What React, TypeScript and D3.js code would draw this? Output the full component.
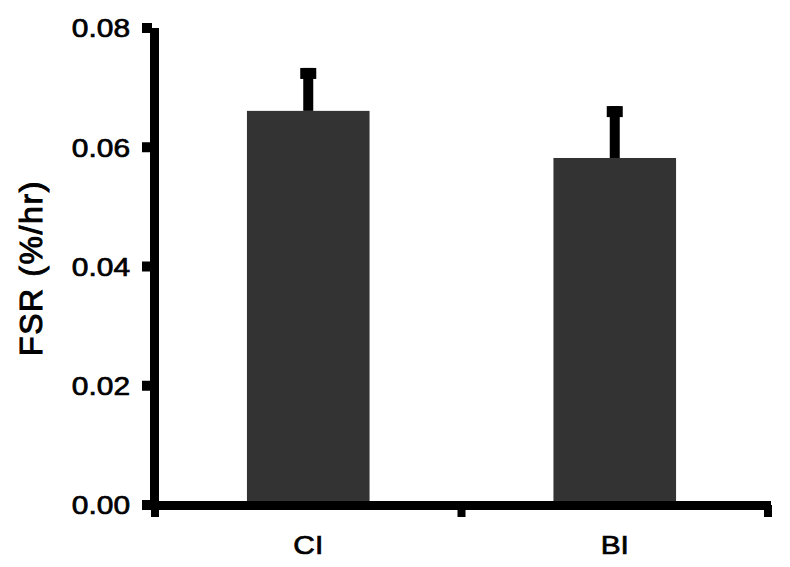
import React, { useEffect, useRef } from 'react';
import * as d3 from 'd3';

const categories = ['CI', 'BI'];
const means = [0.0661, 0.0582];
const errors = [0.0072, 0.0087];
const yTicks = [0, 0.02, 0.04, 0.06, 0.08];

const App: React.FC = () => {
  const svgRef = useRef<SVGSVGElement>(null);

  useEffect(() => {
    const svg = d3.select(svgRef.current);
    svg.selectAll('*').remove();

    const font = 'Liberation Sans, Arial, sans-serif';
    const x0 = 155;
    const x1 = 768;
    const stretch = 1.15;

    const x = d3.scaleBand()
      .domain(categories)
      .range([x0, x1])
      .paddingInner(0.6)
      .paddingOuter(0.3);

    const y = d3.scaleLinear()
      .domain([0, 0.08])
      .range([505, 28]);

    const data = categories.map((c, i) => ({ cat: c, mean: means[i], err: errors[i] }));

    // Bars
    svg.selectAll('.bar')
      .data(data)
      .join('rect')
      .attr('x', d => x(d.cat)!)
      .attr('y', d => y(d.mean))
      .attr('width', x.bandwidth())
      .attr('height', d => y(0) - y(d.mean))
      .attr('fill', '#333333');

    // Error bars (upper only)
    data.forEach(d => {
      const cx = x(d.cat)! + x.bandwidth() / 2;
      svg.append('rect')
        .attr('x', cx - 5)
        .attr('y', y(d.mean + d.err))
        .attr('width', 10)
        .attr('height', y(d.mean) - y(d.mean + d.err))
        .attr('fill', '#000');
      svg.append('rect')
        .attr('x', cx - 8)
        .attr('y', y(d.mean + d.err))
        .attr('width', 16)
        .attr('height', 11)
        .attr('fill', '#000');
    });

    // Y axis
    svg.append('rect')
      .attr('x', 150)
      .attr('y', y(0.08))
      .attr('width', 9)
      .attr('height', y(0) - y(0.08) + 5)
      .attr('fill', '#000');

    svg.selectAll('.ytick')
      .data(yTicks)
      .join('rect')
      .attr('x', 142)
      .attr('y', d => y(d) - 5)
      .attr('width', 10)
      .attr('height', 10)
      .attr('fill', '#000');

    svg.selectAll('.ylabel')
      .data(yTicks)
      .join('text')
      .attr('transform', d => `translate(130, ${y(d)}) scale(${stretch}, 1)`)
      .attr('dy', '0.36em')
      .attr('text-anchor', 'end')
      .style('font-family', font)
      .style('font-size', '26px')
      .style('stroke', '#000')
      .style('stroke-width', '0.7px')
      .text(d => d3.format('.2f')(d));

    // X axis
    svg.append('rect')
      .attr('x', 150)
      .attr('y', y(0) - 4)
      .attr('width', x1 - 150 + 3)
      .attr('height', 9)
      .attr('fill', '#000');

    svg.selectAll('.xtick')
      .data([x0, (x0 + x1) / 2, x1])
      .join('rect')
      .attr('x', d => d - 4)
      .attr('y', y(0))
      .attr('width', 8)
      .attr('height', 12)
      .attr('fill', '#000');

    svg.selectAll('.xlabel')
      .data(categories)
      .join('text')
      .attr('transform', d => `translate(${x(d)! + x.bandwidth() / 2}, 554) scale(${stretch}, 1)`)
      .attr('text-anchor', 'middle')
      .style('font-family', font)
      .style('font-size', '26px')
      .style('stroke', '#000')
      .style('stroke-width', '0.7px')
      .text(d => d);

    // Y title
    svg.append('text')
      .attr('transform', `translate(42, 268) rotate(-90)`)
      .attr('text-anchor', 'middle')
      .style('font-family', font)
      .style('font-size', '32px')
      .style('stroke', '#000')
      .style('stroke-width', '1px')
      .style('letter-spacing', '1.6px')
      .text('FSR (%/hr)');
  }, []);

  return (
    <svg
      ref={svgRef}
      width={790}
      height={567}
      style={{ position: 'absolute', left: 0, top: 0, background: '#fff' }}
    />
  );
};

export default App;
